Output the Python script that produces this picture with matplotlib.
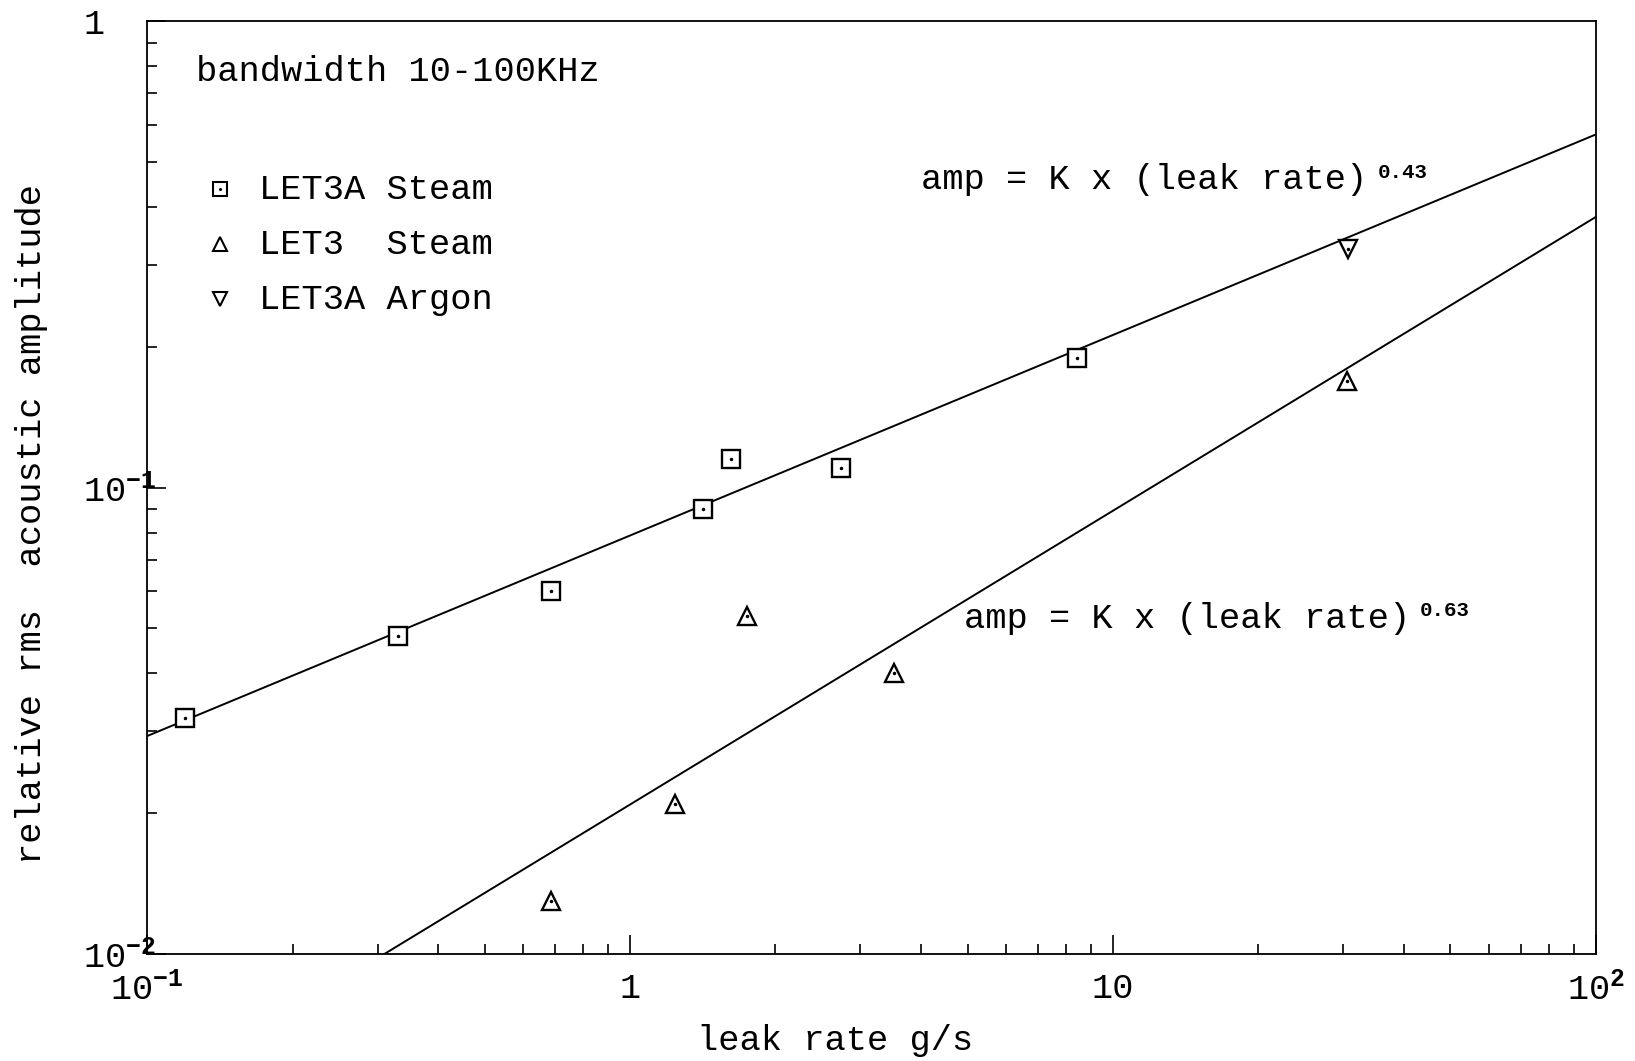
import matplotlib
matplotlib.use('Agg')
import numpy as np
import matplotlib.pyplot as plt
from matplotlib.ticker import LogLocator, NullFormatter

# data
let3a_steam_x = [0.12, 0.33, 0.685, 1.416, 1.62, 2.74, 8.44]
let3a_steam_y = [0.032, 0.0481, 0.060, 0.090, 0.115, 0.110, 0.190]
let3_steam_x = [0.685, 1.24, 1.75, 3.52, 30.6]
let3_steam_y = [0.0130, 0.021, 0.053, 0.040, 0.1695]
let3a_argon_x = [30.7]
let3a_argon_y = [0.324]

# fitted power laws amp = K * rate**n
fit_k = [0.0789, 0.0209]
fit_n = [0.43, 0.63]
fit_range = [0.1, 100]

xticks = [0.1, 1, 10, 100]
xticklabels = [r'10$^{\mathbf{-1}}$', '1', '10', r'10$^{\mathbf{2}}$']
yticks = [0.01, 0.1, 1]
yticklabels = [r'10$^{\mathbf{-2}}$', r'10$^{\mathbf{-1}}$', '1']

fam = ['Liberation Mono', 'DejaVu Sans Mono']
fs = 25.5
plt.rcParams['font.family'] = fam
plt.rcParams['font.size'] = fs
plt.rcParams['mathtext.fontset'] = 'custom'
plt.rcParams['mathtext.rm'] = 'Liberation Mono'
plt.rcParams['mathtext.bf'] = 'Liberation Mono:bold'
plt.rcParams['mathtext.default'] = 'regular'

fig = plt.figure(figsize=(16.35, 10.61), dpi=100)
ax = fig.add_axes([0.090, 0.101, 0.886, 0.879])

# fit lines
xs = np.logspace(np.log10(fit_range[0]), np.log10(fit_range[1]), 200)
for k, n in zip(fit_k, fit_n):
    ax.plot(xs, k * xs ** n, color='black', lw=1.4)

mk = dict(linestyle='none', color='black', mfc='white', ms=13.5, mew=1.7, zorder=3)
dot = dict(linestyle='none', color='black', marker='.', ms=3, zorder=4)
ax.plot(let3a_steam_x, let3a_steam_y, marker='s', **mk)
ax.plot(let3a_steam_x, let3a_steam_y, **dot)
ax.plot(let3_steam_x, let3_steam_y, marker='^', **mk)
ax.plot(let3_steam_x, let3_steam_y, **dot)
ax.plot(let3a_argon_x, let3a_argon_y, marker='v', **mk)
ax.plot(let3a_argon_x, let3a_argon_y, **dot)

ax.set_xscale('log')
ax.set_yscale('log')
ax.set_xlim(0.1, 100)
ax.set_ylim(0.01, 1)

ax.set_xticks(xticks)
ax.set_xticklabels(xticklabels)
ax.set_yticks(yticks)
ax.set_yticklabels(yticklabels, ha='left')
ax.xaxis.set_minor_locator(LogLocator(base=10, subs=np.arange(2, 10)))
ax.yaxis.set_minor_locator(LogLocator(base=10, subs=np.arange(2, 10)))
ax.xaxis.set_minor_formatter(NullFormatter())
ax.yaxis.set_minor_formatter(NullFormatter())
ax.tick_params(which='both', direction='in', top=False, right=False, width=1.2, colors='black')
ax.tick_params(which='major', length=14)
ax.tick_params(which='minor', length=7)
ax.tick_params(axis='x', which='major', pad=13)
ax.tick_params(axis='y', which='major', pad=46)
for s in ax.spines.values():
    s.set_linewidth(1.3)

ax.set_xlabel('leak rate g/s')
ax.xaxis.label.set_va('center')
ax.xaxis.set_label_coords(0.475, -0.093)
ax.set_ylabel('relative rms  acoustic amplitude')
ax.yaxis.label.set_va('center')
ax.yaxis.set_label_coords(-0.080, 0.461)

ax.text(0.0338, 0.946, 'bandwidth 10-100KHz', transform=ax.transAxes, va='center', ha='left')

# legend drawn by hand
leg_labels = ['LET3A Steam', 'LET3  Steam', 'LET3A Argon']
leg_markers = ['s', '^', 'v']
leg_y = [0.820, 0.761, 0.702]
for lab, m, yy in zip(leg_labels, leg_markers, leg_y):
    ax.plot([0.0504], [yy], marker=m, linestyle='none', color='black', mfc='white',
            ms=10.5, mew=1.5, transform=ax.transAxes, clip_on=False)
    ax.text(0.077, yy, lab, transform=ax.transAxes, va='center', ha='left')
ax.plot([0.0504], [leg_y[0]], marker='.', ms=2.5, color='black', transform=ax.transAxes)

# fit annotations
for n, (tx, ty) in zip(fit_n, [(0.5345, 0.830), (0.564, 0.360)]):
    t = ax.text(tx, ty, 'amp = K x (leak rate)', transform=ax.transAxes, va='center', ha='left')
    ax.annotate('%.2f' % n, xy=(1.0, 0.72), xycoords=t, xytext=(7, 0), textcoords='offset points',
                va='center', ha='left', fontsize=15, fontweight='bold')

fig.savefig('out.png', dpi=100)
